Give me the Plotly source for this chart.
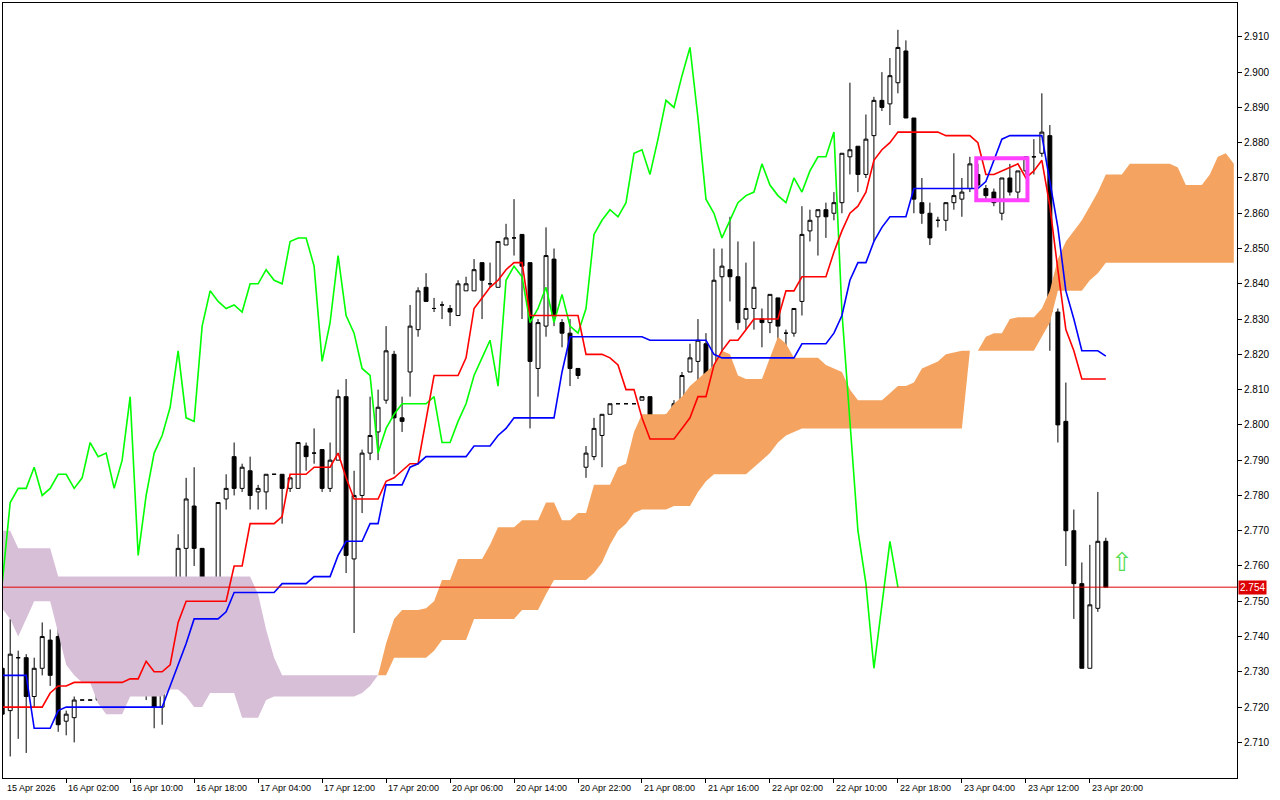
import plotly.graph_objects as go

# 1h candles, 15 Apr 18:00 .. 23 Apr 22:00 (bar index 0..138)
opens = [2.731, 2.719, 2.734, 2.734, 2.723, 2.731, 2.739, 2.740, 2.716, 2.717,
         2.722, 2.722, 2.722, 2.724, 2.724, 2.724, 2.724, 2.739, 2.732, 2.726,
         2.720, 2.741, 2.731, 2.765, 2.777, 2.765, 2.755, 2.755, 2.779, 2.791,
         2.782, 2.787, 2.781, 2.781, 2.786, 2.786, 2.782, 2.782, 2.794, 2.792,
         2.793, 2.782, 2.790, 2.808, 2.762, 2.780, 2.792, 2.798, 2.807, 2.820,
         2.802, 2.815, 2.827, 2.839, 2.833, 2.834, 2.833, 2.831, 2.838, 2.838,
         2.846, 2.840, 2.839, 2.851, 2.853, 2.854, 2.846, 2.816, 2.828, 2.847,
         2.829, 2.826, 2.816, 2.788, 2.791, 2.797, 2.803, 2.806, 2.806, 2.806,
         2.807, 2.808, 2.795, 2.795, 2.802, 2.807, 2.815, 2.818, 2.823, 2.812,
         2.842, 2.844, 2.842, 2.830, 2.833, 2.830, 2.829, 2.836, 2.826, 2.826,
         2.835, 2.855, 2.859, 2.861, 2.860, 2.863, 2.876, 2.879, 2.871, 2.882,
         2.892, 2.891, 2.897, 2.906, 2.887, 2.863, 2.860, 2.858, 2.858, 2.863,
         2.864, 2.867, 2.871, 2.867, 2.866, 2.860, 2.870, 2.866, 2.872, 2.876,
         2.877, 2.882, 2.832, 2.801, 2.770, 2.755, 2.731, 2.748, 2.767]
highs = [2.733, 2.745, 2.736, 2.735, 2.734, 2.744, 2.742, 2.745, 2.719, 2.723,
         2.722, 2.722, 2.724, 2.724, 2.724, 2.724, 2.745, 2.740, 2.733, 2.727,
         2.744, 2.750, 2.769, 2.785, 2.788, 2.765, 2.756, 2.778, 2.786, 2.795,
         2.789, 2.791, 2.783, 2.786, 2.786, 2.786, 2.785, 2.795, 2.795, 2.799,
         2.793, 2.795, 2.810, 2.813, 2.787, 2.793, 2.808, 2.810, 2.828, 2.821,
         2.808, 2.834, 2.839, 2.843, 2.836, 2.835, 2.834, 2.841, 2.842, 2.847,
         2.846, 2.846, 2.852, 2.857, 2.864, 2.854, 2.846, 2.830, 2.856, 2.850,
         2.830, 2.830, 2.816, 2.794, 2.802, 2.803, 2.806, 2.806, 2.806, 2.806,
         2.808, 2.808, 2.796, 2.803, 2.807, 2.815, 2.823, 2.830, 2.826, 2.850,
         2.850, 2.859, 2.852, 2.846, 2.852, 2.833, 2.837, 2.836, 2.827, 2.833,
         2.862, 2.861, 2.861, 2.863, 2.866, 2.877, 2.897, 2.879, 2.888, 2.893,
         2.900, 2.904, 2.912, 2.909, 2.887, 2.870, 2.863, 2.859, 2.863, 2.877,
         2.870, 2.876, 2.874, 2.868, 2.867, 2.870, 2.874, 2.872, 2.876, 2.881,
         2.894, 2.885, 2.833, 2.812, 2.776, 2.761, 2.766, 2.781, 2.768]
lows = [2.712, 2.706, 2.711, 2.707, 2.720, 2.729, 2.726, 2.713, 2.712, 2.710,
        2.722, 2.722, 2.722, 2.724, 2.724, 2.724, 2.724, 2.731, 2.722, 2.714,
        2.715, 2.731, 2.727, 2.756, 2.760, 2.750, 2.750, 2.751, 2.776, 2.780,
        2.781, 2.776, 2.776, 2.776, 2.786, 2.772, 2.781, 2.782, 2.787, 2.789,
        2.781, 2.781, 2.790, 2.758, 2.741, 2.775, 2.790, 2.790, 2.806, 2.786,
        2.798, 2.808, 2.825, 2.835, 2.832, 2.830, 2.828, 2.831, 2.838, 2.838,
        2.830, 2.839, 2.839, 2.851, 2.848, 2.830, 2.799, 2.808, 2.825, 2.828,
        2.822, 2.811, 2.813, 2.785, 2.790, 2.788, 2.803, 2.806, 2.806, 2.806,
        2.807, 2.785, 2.795, 2.795, 2.796, 2.801, 2.815, 2.807, 2.806, 2.806,
        2.810, 2.835, 2.827, 2.827, 2.827, 2.822, 2.826, 2.822, 2.822, 2.825,
        2.831, 2.852, 2.848, 2.853, 2.858, 2.860, 2.871, 2.866, 2.870, 2.852,
        2.889, 2.885, 2.894, 2.887, 2.860, 2.857, 2.851, 2.856, 2.855, 2.861,
        2.859, 2.866, 2.867, 2.864, 2.862, 2.858, 2.865, 2.864, 2.871, 2.871,
        2.876, 2.821, 2.795, 2.760, 2.745, 2.731, 2.731, 2.747, 2.754]
closes = [2.718, 2.735, 2.734, 2.723, 2.731, 2.740, 2.729, 2.715, 2.718, 2.722,
          2.722, 2.722, 2.724, 2.724, 2.724, 2.724, 2.739, 2.732, 2.725, 2.720,
          2.741, 2.732, 2.765, 2.779, 2.765, 2.756, 2.755, 2.778, 2.782, 2.782,
          2.788, 2.780, 2.782, 2.786, 2.786, 2.782, 2.785, 2.795, 2.791, 2.792,
          2.782, 2.790, 2.808, 2.763, 2.780, 2.792, 2.797, 2.805, 2.821, 2.802,
          2.801, 2.828, 2.838, 2.835, 2.833, 2.834, 2.832, 2.840, 2.840, 2.844,
          2.841, 2.840, 2.852, 2.853, 2.853, 2.845, 2.818, 2.829, 2.848, 2.831,
          2.826, 2.816, 2.814, 2.792, 2.799, 2.803, 2.806, 2.806, 2.806, 2.806,
          2.808, 2.795, 2.795, 2.801, 2.806, 2.814, 2.819, 2.824, 2.811, 2.841,
          2.845, 2.842, 2.829, 2.833, 2.839, 2.829, 2.837, 2.828, 2.826, 2.833,
          2.854, 2.858, 2.861, 2.859, 2.863, 2.877, 2.878, 2.871, 2.881, 2.892,
          2.890, 2.899, 2.907, 2.887, 2.864, 2.860, 2.853, 2.858, 2.863, 2.865,
          2.866, 2.874, 2.868, 2.865, 2.863, 2.870, 2.866, 2.872, 2.876, 2.876,
          2.883, 2.832, 2.800, 2.770, 2.755, 2.731, 2.749, 2.767, 2.754]

# Tenkan-sen (red)
tenkan = ([2.720] * 6 + [2.724] + [2.726] * 2 + [2.727] * 7 + [2.728] * 2 + [2.733]
          + [2.730] * 2 + [2.732, 2.744] + [2.750] * 6 + [2.760] * 2 + [2.772] * 4
          + [2.774] + [2.786] * 3 + [2.788] * 3 + [2.792, 2.785] + [2.779] * 4
          + [2.784, 2.785, 2.787, 2.789, 2.789, 2.802] + [2.814] * 4
          + [2.819, 2.833, 2.836, 2.839, 2.841, 2.844, 2.846, 2.846] + [2.831] * 7
          + [2.820] * 3 + [2.819, 2.817] + [2.810] * 2 + [2.802] + [2.796] * 4
          + [2.799, 2.802] + [2.808] * 2 + [2.817, 2.821] + [2.824] * 2 + [2.827]
          + [2.830] * 4 + [2.838] * 2 + [2.842] * 4
          + [2.849, 2.855, 2.860, 2.862, 2.866, 2.875, 2.878, 2.880] + [2.883] * 6
          + [2.882] * 4 + [2.880] + [2.871] * 2
          + [2.872, 2.873, 2.874, 2.870, 2.872, 2.875, 2.862, 2.844, 2.827, 2.821]
          + [2.813] * 4)
# Kijun-sen (blue)
kijun = ([2.729] * 4 + [2.714] * 3 + [2.719] + [2.720] * 13 + [2.726, 2.732, 2.738]
         + [2.745] * 4 + [2.747] + [2.7525] * 6 + [2.755] * 4 + [2.757] * 3 + [2.763]
         + [2.767] * 3 + [2.772] * 2 + [2.783] * 3 + [2.788, 2.789] + [2.791] * 6
         + [2.794] * 3 + [2.797, 2.799] + [2.802] * 6 + [2.815] + [2.825] * 10
         + [2.824] * 8 + [2.820] + [2.819] * 10 + [2.823] * 4 + [2.826, 2.831, 2.841]
         + [2.846] * 2 + [2.852, 2.856] + [2.859] * 3 + [2.867] * 9
         + [2.869, 2.875, 2.881] + [2.882] * 5 + [2.869, 2.856, 2.838, 2.830]
         + [2.821] * 3 + [2.8195])

# Kumo edges, bar index 0..154 (purple up to bar 47, orange after)
cloud_top = ([2.770] * 2 + [2.765] * 5 + [2.757] * 25 + [2.752, 2.742, 2.734] + [2.729] * 13
             + [2.738, 2.745, 2.7475, 2.7475, 2.7475, 2.748, 2.750, 2.756, 2.756, 2.762]
             + [2.762] * 3
             + [2.766, 2.771, 2.771, 2.771, 2.773, 2.773, 2.773, 2.778, 2.778, 2.773, 2.773, 2.775, 2.775]
             + [2.783, 2.783, 2.783, 2.788, 2.789, 2.798] + [2.803] * 4
             + [2.806, 2.808, 2.811, 2.813, 2.815, 2.817, 2.821, 2.820, 2.814] + [2.813] * 3
             + [2.819, 2.825, 2.823] + [2.819] * 4 + [2.817, 2.816, 2.815, 2.810] + [2.807] * 4
             + [2.809, 2.811, 2.811, 2.812, 2.816, 2.817, 2.818, 2.820, 2.8205, 2.821, 2.821, 2.821]
             + [2.825, 2.826, 2.826, 2.830] + [2.8305] * 3
             + [2.833, 2.838, 2.847, 2.852, 2.855, 2.858, 2.862, 2.866, 2.871] + [2.871] * 2
             + [2.874] * 6 + [2.873, 2.868, 2.868, 2.868, 2.871, 2.876, 2.877, 2.874])
cloud_bot = ([2.748, 2.745, 2.740, 2.745, 2.750, 2.750, 2.750, 2.741, 2.732, 2.729, 2.727, 2.727, 2.721]
             + [2.718] * 3 + [2.723] * 5 + [2.725] * 2 + [2.723] + [2.720] * 2 + [2.724] * 4
             + [2.717] * 3 + [2.722] + [2.723] * 11 + [2.724, 2.726, 2.729]
             + [2.729] + [2.734] * 5 + [2.736] + [2.739] * 4 + [2.745] * 6 + [2.7475] * 3 + [2.752]
             + [2.756] * 5 + [2.758, 2.761, 2.766, 2.770, 2.772, 2.775] + [2.776] * 4 + [2.777] * 3
             + [2.781, 2.784] + [2.786] * 5 + [2.788, 2.790, 2.792, 2.795, 2.797, 2.798]
             + [2.799] * 21 + [2.821] * 9 + [2.825, 2.829, 2.838] + [2.838] * 3 + [2.841, 2.843]
             + [2.846] * 17)
cloud_switch = 47

last_price = 2.754
signal_bar = [140]
signal_price = [2.7605]

tick_bars = [0, 8, 16, 24, 32, 40, 48, 56, 64, 72, 80, 88, 96, 104, 112, 120, 128, 136]
tick_labels = ["15 Apr 2026", "16 Apr 02:00", "16 Apr 10:00", "16 Apr 18:00", "17 Apr 04:00",
               "17 Apr 12:00", "17 Apr 20:00", "20 Apr 06:00", "20 Apr 14:00", "20 Apr 22:00",
               "21 Apr 08:00", "21 Apr 16:00", "22 Apr 02:00", "22 Apr 10:00", "22 Apr 18:00",
               "23 Apr 04:00", "23 Apr 12:00", "23 Apr 20:00"]
y_ticks = [round(2.71 + 0.01 * k, 3) for k in range(21)]

for name, arr, n in [("o", opens, 139), ("h", highs, 139), ("l", lows, 139), ("c", closes, 139),
                     ("tenkan", tenkan, 139), ("kijun", kijun, 139),
                     ("ctop", cloud_top, 155), ("cbot", cloud_bot, 155)]:
    assert len(arr) == n, (name, len(arr))

bars = list(range(len(closes)))
cloud_x = list(range(len(cloud_top)))

fig = go.Figure()

# kumo: purple part then orange part
for lo, hi, col in [(0, cloud_switch + 1, "rgb(216,191,216)"),
                    (cloud_switch, len(cloud_x), "rgb(244,164,96)")]:
    xs = cloud_x[lo:hi]
    fig.add_trace(go.Scatter(
        x=xs + xs[::-1],
        y=cloud_top[lo:hi] + cloud_bot[lo:hi][::-1],
        fill="toself", fillcolor=col, line=dict(width=0),
        mode="lines", hoverinfo="skip",
    ))

fig.add_trace(go.Candlestick(
    x=bars, open=opens, high=highs, low=lows, close=closes,
    increasing=dict(line=dict(color="black", width=1), fillcolor="white"),
    decreasing=dict(line=dict(color="black", width=1), fillcolor="black"),
    whiskerwidth=0,
))

# chikou span = close shifted back 26 bars
fig.add_trace(go.Scatter(x=bars[:len(closes) - 26], y=closes[26:], mode="lines",
                         line=dict(color="#00ff00", width=1.6)))
fig.add_trace(go.Scatter(x=bars, y=tenkan, mode="lines", line=dict(color="#ff0000", width=1.6)))
fig.add_trace(go.Scatter(x=bars, y=kijun, mode="lines", line=dict(color="#0000ff", width=1.6)))

fig.add_trace(go.Scatter(x=signal_bar, y=signal_price, mode="text", text=["⇧"],
                         textfont=dict(size=26, color="#55dd55", family="DejaVu Sans")))

fig.add_shape(type="line", xref="paper", x0=0, x1=1, y0=last_price, y1=last_price,
              line=dict(color="#e00000", width=1))
fig.add_shape(type="rect", x0=121.8, x1=128.2, y0=2.8637, y1=2.8756,
              line=dict(color="#ff40ff", width=4))

fig.add_annotation(xref="paper", x=1, y=last_price, text="2.754", showarrow=False,
                   xanchor="left", xshift=1, bgcolor="#dd0000",
                   font=dict(color="white", size=10, family="Liberation Sans"), borderpad=1)

for b, lab in zip(tick_bars, tick_labels):
    fig.add_annotation(x=max(b, 0.4), xref="x", y=0, yref="paper", yanchor="top", xanchor="left",
                       text=lab, showarrow=False, yshift=-3,
                       font=dict(size=9, color="black", family="Liberation Sans"))

fig.update_layout(
    width=1280, height=800,
    margin=dict(l=3, r=43, t=3, b=22, autoexpand=False),
    paper_bgcolor="white", plot_bgcolor="white",
    showlegend=False,
    xaxis=dict(range=[0.1, 154.4], rangeslider=dict(visible=False), showgrid=False,
               zeroline=False, tickmode="array", tickvals=tick_bars,
               ticktext=[""] * len(tick_bars),
               ticks="outside", ticklen=4, tickcolor="black",
               showline=True, linecolor="black", mirror=True),
    yaxis=dict(range=[2.6999, 2.9196], side="right", showgrid=False, zeroline=False,
               tickmode="array", tickvals=y_ticks, ticktext=[f"{v:.3f}" for v in y_ticks],
               ticks="outside", ticklen=4, tickcolor="black",
               tickfont=dict(size=10, color="black", family="Liberation Sans"),
               showline=True, linecolor="black", mirror=True),
)

# drop the default 8px body margin so the figure fills the window
fig.write_html("out.html", config={"displayModeBar": False},
               post_script="document.body.style.margin='0';")
